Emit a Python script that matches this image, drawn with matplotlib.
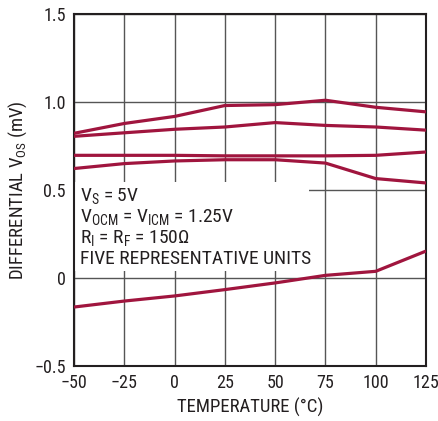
import matplotlib
matplotlib.use("Agg")
import matplotlib.pyplot as plt
from matplotlib.patches import Rectangle
from matplotlib import font_manager

names = {f.name for f in font_manager.fontManager.ttflist}
candidates = ['Liberation Sans Narrow', 'Arial Narrow', 'Roboto Condensed', 'Archivo Narrow',
              'PT Sans Narrow', 'Fira Sans Condensed', 'IBM Plex Sans Condensed',
              'Encode Sans Condensed', 'Open Sans Condensed', 'Liberation Sans']
fam = next(c for c in candidates if c in names)
plt.rcParams['font.family'] = [fam, 'DejaVu Sans']
plt.rcParams['mathtext.fontset'] = 'custom'
plt.rcParams['mathtext.rm'] = fam
plt.rcParams['mathtext.it'] = fam

temps = [-50, -25, 0, 25, 50, 75, 100, 125]
unit1 = [0.822, 0.878, 0.918, 0.980, 0.985, 1.010, 0.970, 0.944]
unit2 = [0.805, 0.825, 0.845, 0.858, 0.883, 0.867, 0.858, 0.840]
unit3 = [0.697, 0.697, 0.697, 0.694, 0.694, 0.694, 0.697, 0.716]
unit4 = [0.622, 0.650, 0.665, 0.672, 0.672, 0.653, 0.565, 0.540]
unit5 = [-0.165, -0.131, -0.102, -0.066, -0.028, 0.015, 0.038, 0.153]
units = [unit1, unit2, unit3, unit4, unit5]

xticks = [-50, -25, 0, 25, 50, 75, 100, 125]
xticklabels = ['\u221250', '\u221225', '0', '25', '50', '75', '100', '125']
yticks = [-0.5, 0, 0.5, 1.0, 1.5]
yticklabels = ['\u22120.5', '0', '0.5', '1.0', '1.5']

color = '#A0153E'
ink = '#231f20'
fs_tick = 13
fs = 13.5
fs_note = 14

fig = plt.figure(figsize=(4.38, 4.21), dpi=100)
ax = fig.add_axes([74/438, 55/421, 352/438, 352/421])
ax.set_xlim(-50, 125)
ax.set_ylim(-0.5, 1.5)
ax.set_xticks(xticks)
ax.set_xticklabels(xticklabels)
ax.set_yticks(yticks)
ax.set_yticklabels(yticklabels)
ax.tick_params(length=0, labelsize=fs_tick, pad=6, colors=ink)
ax.grid(True, color='#555555', linewidth=1.0, zorder=1)
ax.set_axisbelow(True)
for s in ax.spines.values():
    s.set_linewidth(1.5)
    s.set_color(ink)

# white box behind the annotation text
ax.add_patch(Rectangle((0.0, 0.27), 0.668, 0.252, transform=ax.transAxes,
                       facecolor='white', edgecolor='none', zorder=1.5))

for u in units:
    ax.plot(temps, u, color=color, linewidth=2.3, zorder=3, solid_capstyle='butt')

tx = 0.017
kw = dict(transform=ax.transAxes, fontsize=fs_note, va='baseline', color=ink, zorder=4)
ax.text(tx, (366 - 201) / 352, r'$\mathregular{V_S}$ = 5V', **kw)
ax.text(tx, (366 - 222) / 352, r'$\mathregular{V_{OCM}}$ = $\mathregular{V_{ICM}}$ = 1.25V', **kw)
ax.text(tx, (366 - 243) / 352, r'$\mathregular{R_I}$ = $\mathregular{R_F}$ = 150$\mathregular{\Omega}$', **kw)
ax.text(tx, (366 - 264) / 352, 'FIVE REPRESENTATIVE UNITS', **kw)

ax.set_xlabel('TEMPERATURE (\u00b0C)', fontsize=fs, labelpad=4, color=ink)
ax.set_ylabel(r'DIFFERENTIAL $\mathregular{V_{OS}}$ (mV)', fontsize=fs, labelpad=4, color=ink)

fig.savefig('out.png', dpi=100)
